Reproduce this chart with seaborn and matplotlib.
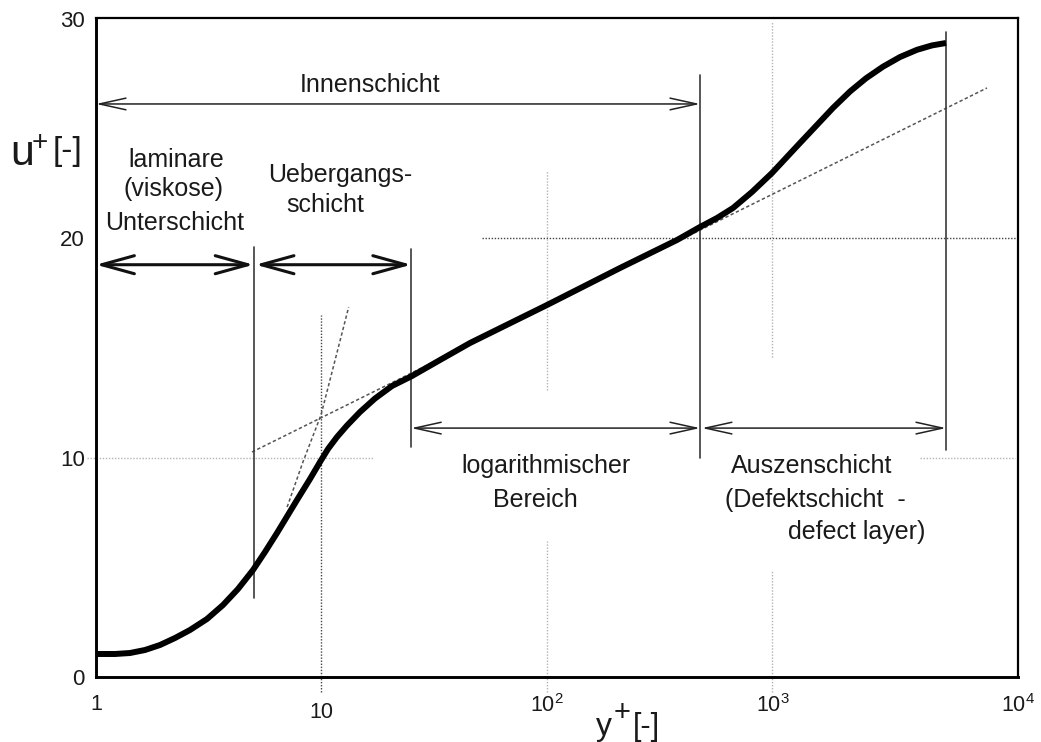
import numpy as np
import pandas as pd
import matplotlib
matplotlib.use("Agg")
import matplotlib.pyplot as plt
import matplotlib.ticker as mticker
import seaborn as sns

# ---------------- data ----------------
y_plus = [1.0, 1.214, 1.415, 1.649, 1.922, 2.240, 2.611, 3.106, 3.658, 4.263, 4.969,
          5.616, 6.349, 7.787, 8.892, 9.848, 10.686, 11.715, 12.973, 14.815, 17.269,
          20.543, 25.197, 33.535, 45.56, 100.0, 210.8, 377.2, 476.9, 567.5, 668.2,
          811.1, 994.9, 1324, 1855, 2207, 2598, 3090, 3676, 4373, 5097, 5881]
u_plus = [1.049, 1.049, 1.094, 1.231, 1.459, 1.778, 2.143, 2.645, 3.283, 4.013, 4.879,
          5.700, 6.566, 8.071, 9.029, 9.804, 10.397, 10.944, 11.468, 12.084, 12.699,
          13.270, 13.726, 14.455, 15.230, 16.963, 18.650, 19.927, 20.520, 20.930, 21.386,
          22.116, 22.982, 24.350, 25.950, 26.700, 27.300, 27.830, 28.270, 28.600, 28.800, 28.910]

loglaw_y = [4.92, 8935]
loglaw_u = [10.26, 26.86]
linear_y = [7.04, 8.27, 9.95, 13.2]
linear_u = [7.75, 9.8, 11.95, 16.87]

region_bounds = [1, 5, 25, 477, 5880]

x_ticks = [1, 10, 100, 1000]
x_tick_labels = ["1", "10", r"10$^{2}$", r"10$^{3}$", r"10$^{4}$"]
y_ticks = [0, 10, 20, 30]
y_tick_labels = ["0", "10", "20", "30"]

# ---------------- style ----------------
sns.set_style("white")
plt.rcParams["font.family"] = ["Liberation Sans", "DejaVu Sans"]
plt.rcParams["mathtext.fontset"] = "custom"
plt.rcParams["mathtext.rm"] = "Liberation Sans"
plt.rcParams["mathtext.it"] = "Liberation Sans"
plt.rcParams["mathtext.default"] = "regular"

fig = plt.figure(figsize=(10.41, 7.42), dpi=100)
ax = fig.add_axes([96 / 1041, 65 / 742, 922 / 1041, 659 / 742])
XMAX = 10 ** 4.0887
ax.set_xscale("log")
ax.set_xlim(1, XMAX)
ax.set_ylim(0, 30.05)

# ---------------- partial grid lines ----------------
light = "#b5b5b5"
dark = "#444444"
dot = (0, (1, 1.2))

def hseg(u, x0, x1, color, lw=1.0):
    ax.plot([x0, x1], [u, u], color=color, lw=lw, ls=dot, clip_on=False, zorder=1)

def vseg(x, u0, u1, color, lw=1.0):
    ax.plot([x, x], [u0, u1], color=color, lw=lw, ls=dot, clip_on=False, zorder=1)

hseg(10, 0.91, 16.9, light)
hseg(10, 4510, 11900, light)
hseg(20, 51.5, XMAX, dark)
vseg(10, -0.7, 16.5, dark)
vseg(100, 13.1, 23.1, light)
vseg(100, -0.7, 6.2, light)
vseg(1000, 14.6, 29.9, light)
vseg(1000, -0.7, 4.9, light)

# ---------------- tangent lines ----------------
ax.plot(loglaw_y, loglaw_u, color="#555555", lw=1.1, ls=(0, (2.2, 1.6)), zorder=3)
ax.plot(linear_y, linear_u, color="#555555", lw=1.1, ls=(0, (2.2, 1.6)), zorder=3)

# ---------------- main velocity profile ----------------
df = pd.DataFrame({"y+": y_plus, "u+": u_plus})
sns.lineplot(data=df, x="y+", y="u+", ax=ax, color="black", lw=4.3,
             sort=False, estimator=None, zorder=5)
ax.lines[-1].set_solid_joinstyle("round")
ax.lines[-1].set_solid_capstyle("butt")

# ---------------- region boundaries ----------------
vcol = "#3a3a3a"
b = region_bounds
ax.plot([b[1], b[1]], [3.6, 19.6], color=vcol, lw=1.2, zorder=4)
ax.plot([b[2], b[2]], [10.5, 19.5], color=vcol, lw=1.2, zorder=4)
ax.plot([b[3], b[3]], [10.0, 27.45], color=vcol, lw=1.2, zorder=4)
ax.plot([b[4], b[4]], [10.35, 29.4], color=vcol, lw=1.2, zorder=4)

def arrow(x0, x1, u, bold=False):
    if bold:
        style = "<->,head_length=2.35,head_width=0.65"
        lw, col = 2.2, "#111111"
    else:
        style = "<->,head_length=1.9,head_width=0.42"
        lw, col = 1.1, "#222222"
    ax.annotate("", xy=(x1, u), xytext=(x0, u),
                arrowprops=dict(arrowstyle=style, lw=lw, color=col,
                                shrinkA=0, shrinkB=0), zorder=4)

arrow(b[0], b[3], 26.13)
arrow(b[0], b[1], 18.8, bold=True)
arrow(b[1] * 1.02, b[2], 18.8, bold=True)
arrow(b[2], b[3], 11.35)
arrow(b[3] * 1.02, b[4], 11.35)

# ---------------- annotations ----------------
tc = "#1a1a1a"
fs = 18
def label(x, u, s, ha="center"):
    ax.text(x, u, s, fontsize=fs, color=tc, ha=ha, va="center", zorder=6)

label(16.4, 27.0, "Innenschicht")
label(2.26, 23.57, "laminare")
label(2.20, 22.25, "(viskose)")
label(2.24, 20.70, "Unterschicht")
label(12.08, 22.89, "Uebergangs-")
label(10.37, 21.52, "schicht")
label(99.0, 9.62, "logarithmischer")
label(88.5, 8.07, "Bereich")
label(1497, 9.62, "Auszenschicht")
label(1543, 8.07, "(Defektschicht  -")
label(2370, 6.6, "defect layer)")

# ---------------- axis labels ----------------
W, H = 1041, 742
def ftext(px, py, s, size):
    fig.text(px / W, 1 - py / H, s, fontsize=size, color=tc, ha="left", va="baseline")

ftext(10, 165, "u", 31)
ftext(32, 150, "+", 20)
ftext(53, 160, "[-]", 24)

ftext(596, 735, "y", 23)
ftext(614, 721, "+", 21)
ftext(633, 735, "[-]", 22)
ax.set_xlabel("")
ax.set_ylabel("")

# ---------------- ticks ----------------
ax.set_xticks(x_ticks + [XMAX])
ax.set_xticklabels(x_tick_labels, fontsize=15.5, color=tc)
ax.xaxis.set_minor_locator(mticker.NullLocator())
ax.set_yticks(y_ticks)
ax.set_yticklabels(y_tick_labels, fontsize=16, color=tc)
ax.set_yticks([20], minor=True)
ax.yaxis.set_minor_formatter(mticker.NullFormatter())
ax.tick_params(axis="x", which="major", length=0)
ax.tick_params(axis="y", which="major", length=0, pad=8)
ax.tick_params(axis="y", which="minor", direction="inout", length=14,
               width=1.2, color="#333333", left=True)
ax.grid(False)

for tick, pad in zip(ax.xaxis.get_major_ticks(), [12, 18, 12, 12, 12]):
    tick.set_pad(pad)

for side in ["left", "bottom"]:
    ax.spines[side].set_linewidth(2.1)
    ax.spines[side].set_color("black")
for side in ["top", "right"]:
    ax.spines[side].set_linewidth(1.6)
    ax.spines[side].set_color("black")
    ax.spines[side].set_visible(True)

fig.savefig("out.png", dpi=100, facecolor="white")
